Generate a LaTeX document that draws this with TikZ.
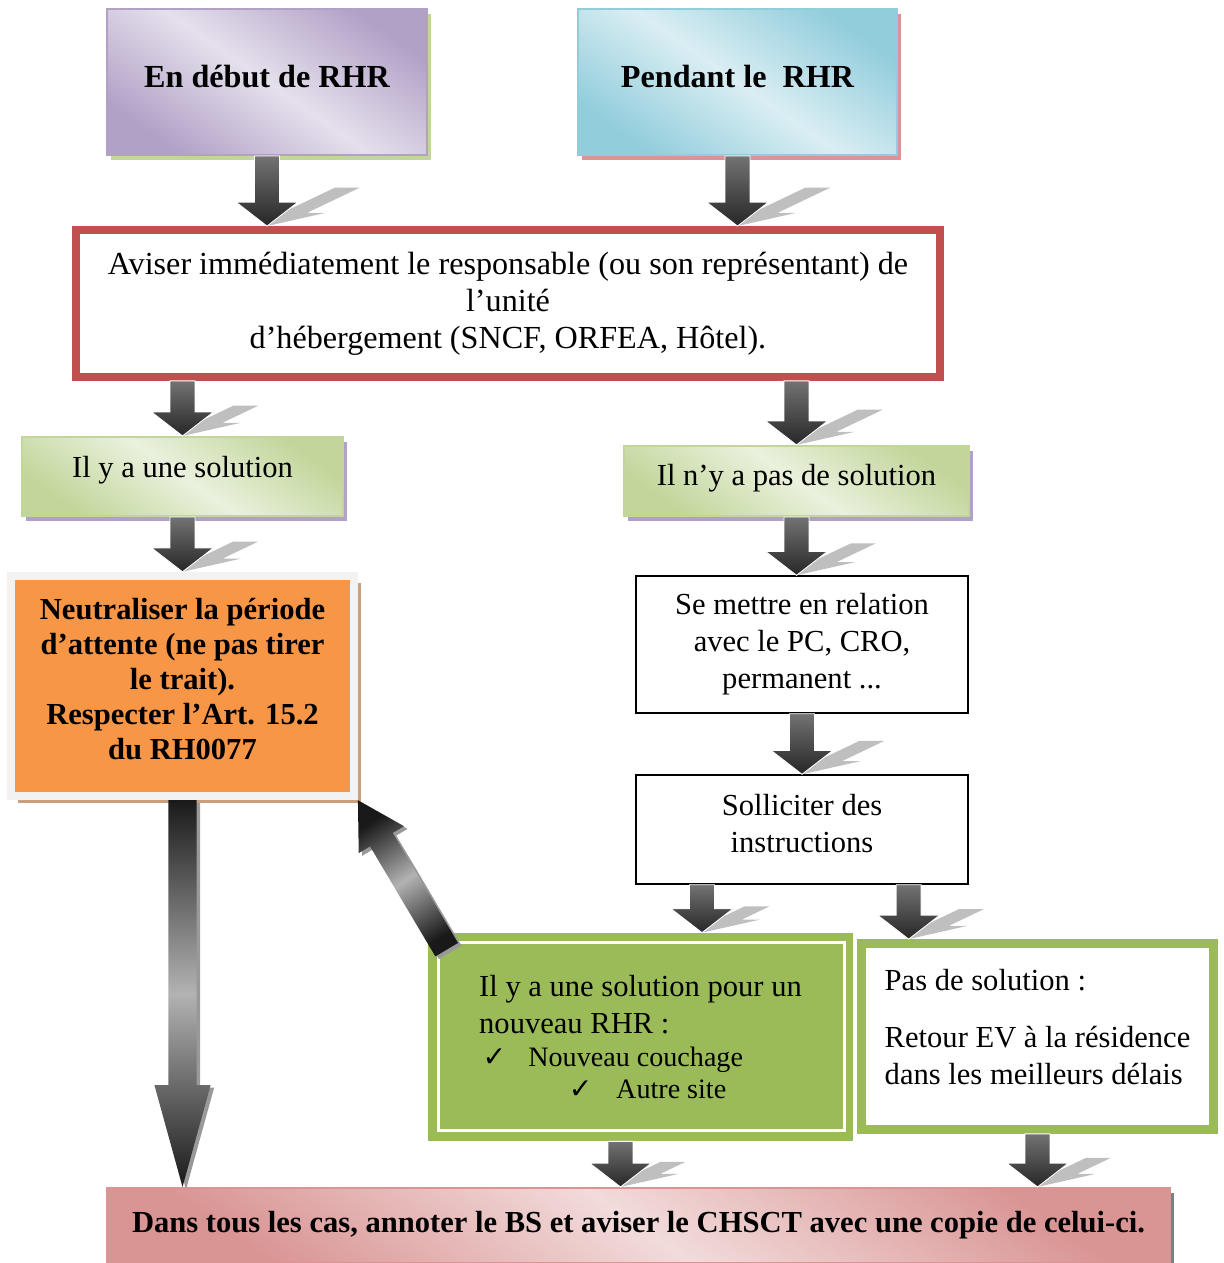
\documentclass[tikz,border=0pt]{standalone}
\usepackage{fontspec}
\setmainfont{Liberation Serif}
\newfontfamily\symboles{DejaVu Sans}
\usetikzlibrary{calc,shadows}

\definecolor{violetF}{HTML}{B2A1C7}
\definecolor{violetC}{HTML}{E5E0EC}
\definecolor{bleuF}{HTML}{92CDDC}
\definecolor{bleuC}{HTML}{DAEEF3}
\definecolor{vertF}{HTML}{C2D69B}
\definecolor{vertC}{HTML}{EAF1DD}
\definecolor{roseF}{HTML}{D99594}
\definecolor{roseC}{HTML}{F2DBDB}
\definecolor{rougeB}{HTML}{C0504D}
\definecolor{orangeB}{HTML}{F79646}
\definecolor{vertB}{HTML}{9BBB59}
\definecolor{grisC}{HTML}{F2F2F2}
\definecolor{ombreO}{HTML}{C8A07E}

\newcommand{\coche}{{\symboles ✓}}
% ligne vide pour remonter le texte
\newcommand{\remonte}[1]{\\[#1]\mbox{}}

\tikzset{
  boite/.style={rectangle, inner sep=0pt, align=center, font=\fontsize{17.4}{21}\selectfont},
  titre/.style={font=\fontsize{18.3}{21}\selectfont\bfseries},
  degrade/.style n args={3}{boite, draw=#1, line width=1.2pt,
    top color=#1, bottom color=#1, middle color=#2, shading angle=-35,
    drop shadow={shadow xshift=2.5pt, shadow yshift=-3pt, fill=#3, opacity=1}},
  ombrefleche/.style={fill=black!25},
  corpsfleche/.style={top color=black!55, bottom color=black!85, draw=white, line width=0.5pt},
  corpsgrand/.style={top color=black!90, bottom color=black!90, middle color=black!30}
}

% petite fleche avec son ombre
\newcommand{\fleche}[2]{%
  \fill[ombrefleche] let \p1=#1, \p2=#2, \n1={\y1-\y2} in
    ({\x2+1.15*\n1-7.1pt},{\y2+0.55*\n1}) -- ({\x2+1.15*\n1+7.1pt},{\y2+0.55*\n1})
    -- ({\x2+22.75pt},{\y2+7.5pt}) -- ({\x2+33.25pt},{\y2+7.5pt}) -- (\x2,\y2)
    -- ({\x2-1.95pt},{\y2+7.5pt}) -- ({\x2+8.55pt},{\y2+7.5pt}) -- cycle;
  \shade[corpsfleche] let \p1=#1, \p2=#2 in
    ({\x1-7.1pt},\y1) -- ({\x1+7.1pt},\y1) -- ({\x1+7.1pt},{\y2+13.6pt})
    -- ({\x1+17.6pt},{\y2+13.6pt}) -- (\x2,\y2) -- ({\x1-17.6pt},{\y2+13.6pt})
    -- ({\x1-7.1pt},{\y2+13.6pt}) -- cycle;
}

% grande fleche : depart, arrivee, demi-corps, demi-tete, tete, angle
\newcommand{\grandefleche}[6]{%
  \shade[corpsgrand, shading angle=#6,
    preaction={fill=black!40, transform canvas={shift={(2pt,-1.5pt)}}}]
    let \p1=#1, \p2=#2, \n1={atan2(\y2-\y1,\x2-\x1)}, \n2={veclen(\x2-\x1,\y2-\y1)} in
    ($(\p1)+({\n1+90}:#3)$) -- ($(\p1)+({\n1}:{\n2-#5})+({\n1+90}:#3)$)
    -- ($(\p1)+({\n1}:{\n2-#5})+({\n1+90}:#4)$) -- (\p2)
    -- ($(\p1)+({\n1}:{\n2-#5})+({\n1-90}:#4)$) -- ($(\p1)+({\n1}:{\n2-#5})+({\n1-90}:#3)$)
    -- ($(\p1)+({\n1-90}:#3)$) -- cycle;
}

\begin{document}
\begin{tikzpicture}[x=0.02cm, y=-0.02cm]
    \useasboundingbox (0,0) rectangle (1223,1263);

    % cases du haut
    \node[degrade={violetF}{violetC}{vertF}, titre, minimum width=6.4cm, minimum height=2.92cm] (debut) at (267,82) {En début de RHR\remonte{-15pt}};
    \node[degrade={bleuF}{bleuC}{roseF}, titre, minimum width=6.38cm, minimum height=2.92cm] (pendant) at (737.5,82) {Pendant le\ \ RHR\remonte{-15pt}};

    % avis au responsable
    \node[boite, font=\fontsize{18.3}{21}\selectfont, draw=rougeB, line width=4.5pt, fill=white, minimum width=17.28cm, minimum height=2.94cm] (aviser) at (508,303.5)
      {Aviser immédiatement le responsable (ou son représentant) de\\ l’unité\\ d’hébergement (SNCF, ORFEA, Hôtel).};
    \draw[rougeB, line width=1pt] ([shift={(7,7)}]aviser.north west) rectangle ([shift={(-7,-7)}]aviser.south east);

    % solution ou non
    \node[degrade={vertF}{vertC}{violetF}, minimum width=6.42cm, minimum height=1.58cm] (sol) at (182.5,476.5) {Il y a une solution\remonte{-10pt}};
    \node[degrade={vertF}{vertC}{violetF}, minimum width=6.9cm, minimum height=1.4cm] (nosol) at (796.5,481) {Il n’y a pas de solution\remonte{-14pt}};

    % branche gauche
    \node[boite, font=\fontsize{17.4}{20}\selectfont\bfseries, fill=orangeB, draw=grisC, line width=4.5pt,
      minimum width=6.86cm, minimum height=4.41cm,
      drop shadow={shadow xshift=4pt, shadow yshift=-4pt, fill=ombreO, opacity=1}] (orange) at (182.5,686)
      {Neutraliser la période\\ d’attente (ne pas tirer\\ le trait).\\ Respecter l’Art. 15.2\\ du RH0077\remonte{-12pt}};

    % branche droite
    \node[boite, draw=black, line width=0.8pt, fill=white, minimum width=6.64cm, minimum height=2.74cm] (relation) at (802,644.5)
      {Se mettre en relation\\ avec le PC, CRO,\\ permanent ...};
    \node[boite, draw=black, line width=0.8pt, fill=white, minimum width=6.64cm, minimum height=2.18cm] (instr) at (802,829.5)
      {Solliciter des\\ instructions\remonte{-14pt}};

    \node[boite, align=left, fill=vertB, minimum width=8.5cm, minimum height=4.16cm] (newrhr) at (640.5,1037)
      {Il y a une solution pour un\\ nouveau RHR :\\[-2pt]
       {\fontsize{16}{19}\selectfont\hspace*{2pt}\makebox[26pt][l]{\coche}Nouveau couchage}\\[-3pt]
       {\fontsize{16}{19}\selectfont\hspace*{51pt}\makebox[27pt][l]{\coche}Autre site}};
    \draw[white, line width=1.5pt] ([shift={(11,10)}]newrhr.north west) rectangle ([shift={(-9,-11)}]newrhr.south east);

    \node[boite, align=left, draw=vertB, line width=5pt, fill=white, minimum width=7.04cm, minimum height=3.72cm] (pas) at (1037.5,1036.5)
      {Pas de solution :\\[12pt] Retour EV à la résidence\\ dans les meilleurs délais\remonte{-10pt}};
    \draw[vertB, line width=1.2pt] ([shift={(8,8)}]pas.north west) rectangle ([shift={(-8,-8)}]pas.south east);

    % conclusion
    \node[degrade={roseF}{roseC}{gray}, font=\fontsize{17.4}{21}\selectfont\bfseries, minimum width=21.26cm, minimum height=1.5cm] (bilan) at (638.5,1225.5)
      {Dans tous les cas, annoter le BS et aviser le CHSCT avec une copie de celui-ci.};

    % fleches
    \fleche{(debut.south)}{(debut.south |- aviser.north)}
    \fleche{(pendant.south)}{(pendant.south |- aviser.north)}
    \fleche{(aviser.south -| sol.north)}{(sol.north)}
    \fleche{(aviser.south -| nosol.north)}{(nosol.north)}
    \fleche{(sol.south)}{(sol.south |- orange.north)}
    \fleche{(nosol.south)}{(nosol.south |- relation.north)}
    \fleche{(relation.south)}{(instr.north)}
    \coordinate (dep1) at ($(instr.south west)!0.2!(instr.south east)$);
    \coordinate (dep2) at ($(instr.south west)!0.82!(instr.south east)$);
    \coordinate (dep3) at ([shift={(-20,0)}]newrhr.south);
    \fleche{(dep1)}{(dep1 |- newrhr.north)}
    \fleche{(dep2)}{(dep2 |- pas.north)}
    \fleche{(dep3)}{(dep3 |- bilan.north)}
    \fleche{(pas.south)}{(pas.south |- bilan.north)}

    \grandefleche{(orange.south)}{(orange.south |- bilan.north)}{8pt}{16pt}{58pt}{0}
    \grandefleche{([shift={(19,17)}]newrhr.north west)}{(orange.south east)}{7.5pt}{15pt}{26pt}{32}
\end{tikzpicture}
\end{document}
